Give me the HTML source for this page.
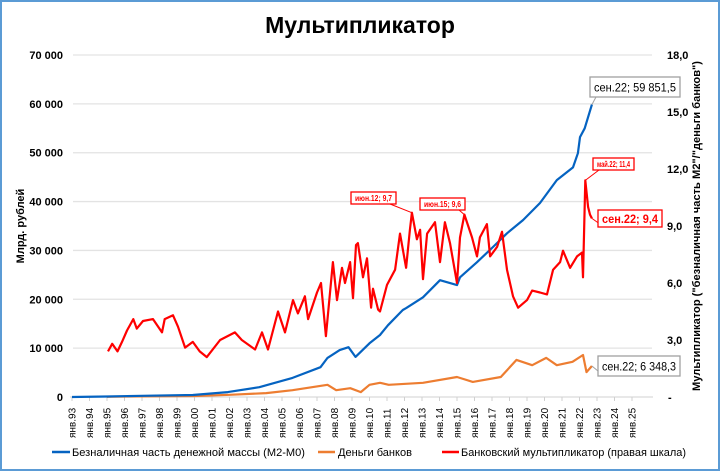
<!DOCTYPE html>
<html><head><meta charset="utf-8">
<style>
html,body{margin:0;padding:0;background:#fff;}
#wrap{position:relative;width:716px;height:467px;border:2px solid #5b9bd5;overflow:hidden;}
svg{position:absolute;left:-2px;top:-2px;font-family:"Liberation Sans",sans-serif;}
</style></head>
<body>
<div id="wrap">
<svg id="chart" width="720" height="471" xmlns="http://www.w3.org/2000/svg">
<text x="360" y="33" text-anchor="middle" font-size="23" font-weight="bold" fill="#000">Мультипликатор</text>
<text transform="translate(24,226) rotate(-90)" text-anchor="middle" font-size="11" font-weight="bold">Млрд. рублей</text>
<text transform="translate(700,226) rotate(-90)" text-anchor="middle" font-size="11" font-weight="bold" textLength="330" lengthAdjust="spacingAndGlyphs">Мультипликатор ("безналичная часть М2"/"деньги банков")</text>
<g id="grid"></g><g id="axes"></g><g id="series"></g><g id="notes"></g>
<g font-size="11">
<line x1="52" y1="452" x2="70" y2="452" stroke="#0563c1" stroke-width="2.5"/>
<text x="72" y="456" textLength="233" lengthAdjust="spacingAndGlyphs">Безналичная часть денежной массы (М2-М0)</text>
<line x1="318" y1="452" x2="335" y2="452" stroke="#ed7d31" stroke-width="2.5"/>
<text x="338" y="456" textLength="74" lengthAdjust="spacingAndGlyphs">Деньги банков</text>
<line x1="442" y1="452" x2="459" y2="452" stroke="#ff0000" stroke-width="2.5"/>
<text x="461" y="456" textLength="225" lengthAdjust="spacingAndGlyphs">Банковский мультипликатор (правая шкала)</text>
</g>
</svg>
</div>
<script>
const leftTicks=[0,10000,20000,30000,40000,50000,60000,70000];
const leftTickLabels=["0","10 000","20 000","30 000","40 000","50 000","60 000","70 000"];
const rightTicks=[0,3,6,9,12,15,18];
const rightTickLabels=["-","3,0","6,0","9,0","12,0","15,0","18,0"];
const yearTicks=[1993,1994,1995,1996,1997,1998,1999,2000,2001,2002,2003,2004,2005,2006,2007,2008,2009,2010,2011,2012,2013,2014,2015,2016,2017,2018,2019,2020,2021,2022,2023,2024,2025];
const m2Dates=[1993,1995,1997,1999.9,2001.9,2003.7,2005.6,2007.2,2007.6,2008.3,2008.8,2009.2,2010.0,2010.6,2011.06,2011.9,2012.1,2013.06,2014.03,2015.0,2015.17,2016.14,2017.06,2017.86,2018.77,2019.74,2020.7,2021.63,2021.91,2022.03,2022.3,2022.71];
const m2Values=[0,100,250,400,1000,2000,3900,6100,8000,9600,10200,8200,11000,12700,14700,17800,18200,20400,23900,22900,24500,27600,30700,33500,36200,39700,44400,47000,49900,53200,55000,59851.5];
const bankDates=[1995,1997,2000,2002,2004.1,2005.6,2007.6,2008.1,2008.9,2009.5,2010.0,2010.6,2011.1,2013.06,2015.0,2015.9,2017.5,2018.4,2019.3,2020.1,2020.7,2021.6,2022.2,2022.4,2022.71];
const bankValues=[50,120,200,450,800,1400,2500,1400,1800,1000,2500,2900,2500,2900,4100,3100,4100,7600,6500,8000,6500,7200,8600,5100,6348.3];
const multDates=[1995.06,1995.3,1995.6,1995.86,1996.14,1996.5,1996.7,1997.06,1997.63,1998.14,1998.3,1998.77,1999.06,1999.46,1999.9,2000.3,2000.7,2001.46,2002.31,2002.7,2003.46,2003.86,2004.2,2004.77,2005.17,2005.63,2005.91,2006.31,2006.49,2007.0,2007.23,2007.51,2007.91,2008.14,2008.43,2008.6,2008.89,2009.06,2009.23,2009.34,2009.63,2009.86,2010.09,2010.2,2010.49,2010.6,2011.0,2011.46,2011.74,2012.09,2012.31,2012.42,2012.71,2012.89,2013.06,2013.29,2013.74,2014.03,2014.31,2014.6,2015.0,2015.17,2015.42,2015.86,2016.14,2016.31,2016.71,2016.89,2017.29,2017.57,2017.86,2018.2,2018.49,2019.0,2019.29,2019.74,2020.14,2020.49,2020.89,2021.06,2021.46,2021.86,2022.14,2022.2,2022.33,2022.49,2022.6,2022.71];
const multValues=[2.4,2.8,2.4,2.9,3.5,4.1,3.6,4.0,4.1,3.4,4.1,4.3,3.7,2.6,2.9,2.4,2.1,3.0,3.4,3.0,2.5,3.4,2.5,4.5,3.4,5.1,4.4,5.3,4.1,5.5,6.0,3.2,7.1,5.1,6.8,6.0,7.1,5.2,8.0,8.1,6.3,7.3,4.7,5.7,4.6,4.5,5.9,6.7,8.6,6.8,8.8,9.7,8.3,8.8,6.2,8.6,9.2,7.1,9.2,8.1,6.0,8.4,9.6,8.4,7.4,8.4,9.1,7.4,7.9,8.7,6.7,5.3,4.7,5.1,5.6,5.5,5.4,6.7,7.1,7.7,6.8,7.4,7.6,6.3,11.4,10.0,9.6,9.4];

const NS="http://www.w3.org/2000/svg";
const X0=72,XK=17.5,YB=397,YT=55;
function xs(t){return X0+(t-1993)*XK;}
function yl(v){return YB-(v/70000)*(YB-YT);}
function yr(v){return YB-(v/18)*(YB-YT);}
function mk(tag,attrs,parent){const e=document.createElementNS(NS,tag);for(const k in attrs)e.setAttribute(k,attrs[k]);parent.appendChild(e);return e;}
const grid=document.getElementById('grid'),axes=document.getElementById('axes'),ser=document.getElementById('series'),notes=document.getElementById('notes');

leftTicks.forEach((v,i)=>{
  if(v>0){const g=mk('line',{x1:73,x2:652,y1:yl(v),y2:yl(v),stroke:'#e3e3e3','stroke-width':1.3},grid);
  
  }
  const t=mk('text',{x:63,y:yl(v)+4,'text-anchor':'end','font-size':11,'font-weight':'bold'},axes);
  t.textContent=leftTickLabels[i];
  
  
});
rightTicks.forEach((v,i)=>{
  const t=mk('text',{x:v===0?668:667,y:yr(v)+4,'font-size':11,'font-weight':'bold'},axes);
  t.textContent=rightTickLabels[i];
  
  
});
const ax=mk('line',{x1:70,x2:653,y1:YB,y2:YB,stroke:'#d0d0d0','stroke-width':1},axes);


yearTicks.forEach(y=>{
  const x=xs(y);
  const tk=mk('line',{x1:x,x2:x,y1:YB,y2:YB+4,stroke:'#d0d0d0'},axes);
  
  
  const t=mk('text',{transform:`translate(${x+3.5},438) rotate(-90)`,'font-size':10},axes);
  t.textContent='янв.'+String(y).slice(2);
  
  
});
function path(dates,vals,yf,color,name){
  const d=dates.map((t,i)=>(i?'L':'M')+xs(t).toFixed(1)+','+yf(vals[i]).toFixed(1)).join('');
  const p=mk('path',{d:d,fill:'none',stroke:color,'stroke-width':2.2,'stroke-linejoin':'round'},ser);
  
  
}
path(bankDates,bankValues,yl,'#ed7d31','bank-money-line');
path(m2Dates,m2Values,yl,'#0563c1','m2-line');
path(multDates,multValues,yr,'#ff0000','multiplier-line');

function note(px,py,bx,by,bw,bh,txt,color,fs,name){
  const lx=bx+Math.min(Math.max(px-bx,6),bw-6);
  const ly=(py<by)?by:by+bh;
  const l=mk('line',{x1:px,y1:py,x2:lx,y2:ly,stroke:color,'stroke-width':1},notes);
  
  
  const r=mk('rect',{x:bx,y:by,width:bw,height:bh,fill:'#fff',stroke:color,'stroke-width':1.3},notes);
  
  
  const t=mk('text',{x:bx+bw/2,y:by+bh/2+fs*0.36,'text-anchor':'middle','font-size':fs,'font-weight':color==='#ff0000'?'bold':'normal',fill:color==='#ff0000'?'#ff0000':'#000',textLength:bw-8,lengthAdjust:'spacingAndGlyphs'},notes);
  t.textContent=txt;
  
  
}
const iLast=m2Dates.length-1;
note(xs(m2Dates[iLast]),yl(m2Values[iLast]),590,77,90,20,'сен.22;  59 851,5','#a0a0a0',12,'m2-last-label');
note(xs(bankDates[bankDates.length-1]),yl(bankValues[bankValues.length-1]),598,356,82,20,'сен.22;  6 348,3','#a0a0a0',12,'bank-last-label');
note(xs(2012.42),yr(9.7),351,192,45,12,'июн.12;  9,7','#ff0000',8,'jun12-label');
note(xs(2015.42),yr(9.6),420,198,45,12,'июн.15;  9,6','#ff0000',8,'jun15-label');
note(xs(2022.33),yr(11.4),593,158,41,12,'май.22;  11,4','#ff0000',8,'may22-label');
note(xs(2022.71),yr(9.4),598,210,64,17,'сен.22;   9,4','#ff0000',12,'sep22-mult-label');
</script>
</body></html>
